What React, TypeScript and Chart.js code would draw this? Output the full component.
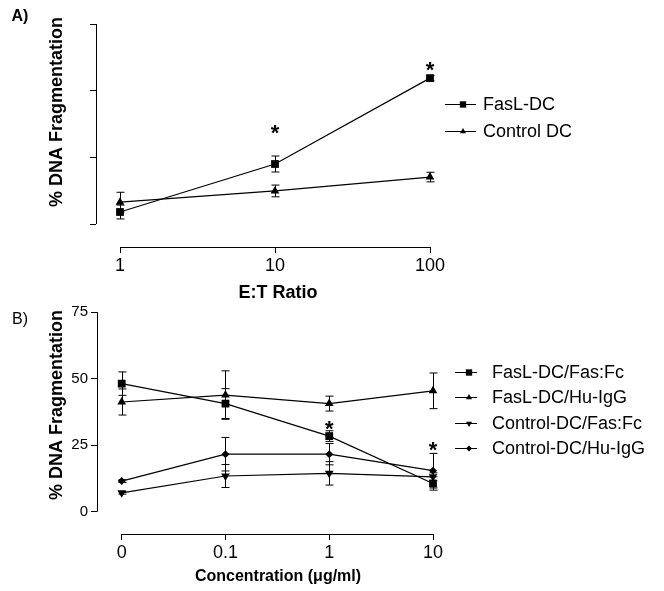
import React, { useEffect, useRef } from 'react';
import { Chart, registerables } from 'chart.js';

Chart.register(...registerables);

const FONT = "'Liberation Sans', Arial, Helvetica, sans-serif";

// ---------- Panel A data ----------
const ratioLabels = ['1', '10', '100'];
const faslDC = [4.5, 22.5, 54.7];
const faslDCErr = [2.6, 3.0, 1.0];
const controlDC = [8.2, 12.4, 17.6];
const controlDCErr = [3.7, 2.2, 1.8];
const starsA: (number | null)[] = [null, 36, 59.6];

// ---------- Panel B data ----------
const concLabels = ['0', '0.1', '1', '10'];
const faslFasFc = [48.1, 40.6, 28.4, 10.6];
const faslFasFcErr = [4.4, 5.6, 2.0, 2.5];
const faslHuIgG = [41.2, 43.8, 40.6, 45.4];
const faslHuIgGErr = [4.9, 9.1, 2.8, 6.7];
const controlFasFc = [7.1, 13.4, 14.4, 13.1];
const controlFasFcErr = [0.5, 4.3, 4.4, 1.5];
const controlHuIgG = [11.5, 21.6, 21.6, 15.4];
const controlHuIgGErr = [0.5, 6.3, 4.0, 6.5];
const starsB: (number | null)[] = [null, null, 32.9, 25];

const yTicks = [0, 25, 50, 75];

type Marker = 'rect' | 'triangle' | 'rectRot';

interface SeriesDef {
  label: string;
  values: number[];
  errors: number[];
  marker: Marker;
  rotation: number;
  radius: number;
  legendRadius: number;
}

interface PanelDef {
  width: number;
  height: number;
  labels: string[];
  series: SeriesDef[];
  stars: (number | null)[];
  top: number;
  zeroY: number;
  axisY: number;
  left: number;
  firstX: number;
  lastX: number;
  right: number;
  showYTickLabels: boolean;
  yTitle: { text: string; x: number; y: number };
  xTitle: { text: string; x: number; y: number; size: number };
  panelLabel: { text: string; x: number; y: number; bold: boolean };
  legend: { rows: number[]; lineFrom: number; lineTo: number; markerX: number; textX: number };
}

function drawMarker(ctx: CanvasRenderingContext2D, m: Marker, x: number, y: number, r: number, rotDeg: number) {
  const rot = (rotDeg * Math.PI) / 180;
  ctx.beginPath();
  if (m === 'rect') {
    const s = Math.SQRT1_2 * r;
    ctx.rect(x - s, y - s, 2 * s, 2 * s);
  } else if (m === 'triangle') {
    let a = rot;
    ctx.moveTo(x + Math.sin(a) * r, y - Math.cos(a) * r);
    a += (2 * Math.PI) / 3;
    ctx.lineTo(x + Math.sin(a) * r, y - Math.cos(a) * r);
    a += (2 * Math.PI) / 3;
    ctx.lineTo(x + Math.sin(a) * r, y - Math.cos(a) * r);
    ctx.closePath();
  } else {
    ctx.moveTo(x, y - r);
    ctx.lineTo(x + r, y);
    ctx.lineTo(x, y + r);
    ctx.lineTo(x - r, y);
    ctx.closePath();
  }
  ctx.fill();
}

function makePlugin(def: PanelDef) {
  const n = def.labels.length;
  return {
    id: 'panelDecor',
    beforeDatasetsDraw(chart: any) {
      const { ctx, chartArea: ca, scales } = chart;
      const x = scales.x;
      const y = scales.y;
      ctx.save();
      ctx.strokeStyle = '#000';
      ctx.lineWidth = 1;
      // axis lines (offset style)
      ctx.beginPath();
      const yl = Math.round(ca.left) + 0.5;
      ctx.moveTo(yl, y.getPixelForValue(yTicks[0]));
      ctx.lineTo(yl, y.getPixelForValue(yTicks[yTicks.length - 1]));
      const xb = Math.round(ca.bottom) + 0.5;
      ctx.moveTo(x.getPixelForValue(0), xb);
      ctx.lineTo(x.getPixelForValue(n - 1), xb);
      ctx.stroke();
      // error bars
      def.series.forEach((s) => {
        s.values.forEach((v, i) => {
          const e = s.errors[i];
          if (!e) return;
          const px = Math.round(x.getPixelForValue(i)) + 0.5;
          const t = y.getPixelForValue(v + e);
          const b = y.getPixelForValue(v - e);
          ctx.beginPath();
          ctx.moveTo(px, t);
          ctx.lineTo(px, b);
          ctx.moveTo(px - 4, t);
          ctx.lineTo(px + 4, t);
          ctx.moveTo(px - 4, b);
          ctx.lineTo(px + 4, b);
          ctx.stroke();
        });
      });
      ctx.restore();
    },
    afterDraw(chart: any) {
      const { ctx, scales } = chart;
      const x = scales.x;
      const y = scales.y;
      ctx.save();
      ctx.fillStyle = '#000';
      ctx.strokeStyle = '#000';
      // significance stars
      ctx.font = `bold 22px ${FONT}`;
      ctx.textAlign = 'center';
      ctx.textBaseline = 'alphabetic';
      def.stars.forEach((sv, i) => {
        if (sv == null) return;
        ctx.fillText('*', x.getPixelForValue(i), y.getPixelForValue(sv) + 12);
      });
      // axis titles
      ctx.textBaseline = 'middle';
      ctx.font = `bold ${def.xTitle.size}px ${FONT}`;
      ctx.fillText(def.xTitle.text, def.xTitle.x, def.xTitle.y);
      ctx.save();
      ctx.translate(def.yTitle.x, def.yTitle.y);
      ctx.rotate(-Math.PI / 2);
      ctx.font = `bold 18px ${FONT}`;
      ctx.fillText(def.yTitle.text, 0, 0);
      ctx.restore();
      // panel label
      ctx.font = `${def.panelLabel.bold ? 'bold ' : ''}16px ${FONT}`;
      ctx.fillText(def.panelLabel.text, def.panelLabel.x, def.panelLabel.y);
      // legend
      ctx.font = `18px ${FONT}`;
      ctx.textAlign = 'left';
      ctx.lineWidth = 1;
      def.series.forEach((s, i) => {
        const ry = def.legend.rows[i];
        ctx.beginPath();
        ctx.moveTo(def.legend.lineFrom, Math.round(ry) + 0.5);
        ctx.lineTo(def.legend.lineTo, Math.round(ry) + 0.5);
        ctx.stroke();
        drawMarker(ctx, s.marker, def.legend.markerX, Math.round(ry) + 0.5, s.legendRadius, s.rotation);
        ctx.fillText(s.label, def.legend.textX, ry + 1);
      });
      ctx.restore();
    },
  };
}

function buildConfig(def: PanelDef): any {
  const n = def.labels.length;
  const unitY = (def.zeroY - def.top) / 75;
  const yMin = -(def.axisY - def.zeroY) / unitY;
  const unitX = (def.lastX - def.firstX) / (n - 1);
  const xMin = -(def.firstX - def.left) / unitX;
  const xMax = n - 1 + (def.right - def.lastX) / unitX;
  return {
    type: 'line',
    data: {
      datasets: def.series.map((s) => ({
        label: s.label,
        data: s.values.map((v, i) => ({ x: i, y: v })),
        borderColor: '#000',
        borderWidth: 1.2,
        backgroundColor: '#000',
        pointBackgroundColor: '#000',
        pointBorderColor: '#000',
        pointBorderWidth: 0,
        pointStyle: s.marker,
        pointRotation: s.rotation,
        pointRadius: s.radius,
        tension: 0,
        fill: false,
        clip: false,
      })),
    },
    options: {
      responsive: false,
      animation: false,
      events: [],
      layout: { padding: { top: def.top, left: 0, right: def.width - def.right, bottom: 0 } },
      plugins: { legend: { display: false }, tooltip: { enabled: false }, title: { display: false } },
      scales: {
        x: {
          type: 'linear',
          min: xMin,
          max: xMax,
          afterBuildTicks: (s: any) => {
            s.ticks = def.labels.map((_, i) => ({ value: i }));
          },
          afterFit: (s: any) => {
            s.height = def.height - def.axisY;
          },
          ticks: {
            callback: (v: number) => def.labels[v] ?? '',
            color: '#000',
            font: { family: FONT, size: 18 },
            padding: 2,
            maxRotation: 0,
            autoSkip: false,
          },
          grid: { display: true, drawOnChartArea: false, drawTicks: true, tickLength: 6, color: '#000', lineWidth: 1 },
          border: { display: false },
        },
        y: {
          type: 'linear',
          min: yMin,
          max: 75,
          afterBuildTicks: (s: any) => {
            s.ticks = yTicks.map((v) => ({ value: v }));
          },
          afterFit: (s: any) => {
            s.width = def.left;
          },
          ticks: {
            display: def.showYTickLabels,
            color: '#000',
            font: { family: FONT, size: 15 },
            padding: 3,
            callback: (v: number) => String(v),
          },
          grid: { display: true, drawOnChartArea: false, drawTicks: true, tickLength: 6, color: '#000', lineWidth: 1 },
          border: { display: false },
        },
      },
    },
    plugins: [makePlugin(def)],
  };
}

const panelA: PanelDef = {
  width: 664,
  height: 300,
  labels: ratioLabels,
  series: [
    { label: 'FasL-DC', values: faslDC, errors: faslDCErr, marker: 'rect', rotation: 0, radius: 5.5, legendRadius: 4.5 },
    { label: 'Control DC', values: controlDC, errors: controlDCErr, marker: 'triangle', rotation: 0, radius: 5, legendRadius: 3.5 },
  ],
  stars: starsA,
  top: 24,
  zeroY: 224,
  axisY: 247,
  left: 96,
  firstX: 120,
  lastX: 430,
  right: 440,
  showYTickLabels: false,
  yTitle: { text: '% DNA Fragmentation', x: 57, y: 112 },
  xTitle: { text: 'E:T Ratio', x: 278, y: 293, size: 18 },
  panelLabel: { text: 'A)', x: 20, y: 17, bold: true },
  legend: { rows: [104, 131], lineFrom: 445, lineTo: 476, markerX: 463, textX: 483 },
};

const panelB: PanelDef = {
  width: 664,
  height: 291,
  labels: concLabels,
  series: [
    { label: 'FasL-DC/Fas:Fc', values: faslFasFc, errors: faslFasFcErr, marker: 'rect', rotation: 0, radius: 5.5, legendRadius: 4.5 },
    { label: 'FasL-DC/Hu-IgG', values: faslHuIgG, errors: faslHuIgGErr, marker: 'triangle', rotation: 0, radius: 5, legendRadius: 3.5 },
    { label: 'Control-DC/Fas:Fc', values: controlFasFc, errors: controlFasFcErr, marker: 'triangle', rotation: 180, radius: 5, legendRadius: 3.5 },
    { label: 'Control-DC/Hu-IgG', values: controlHuIgG, errors: controlHuIgGErr, marker: 'rectRot', rotation: 0, radius: 4, legendRadius: 3 },
  ],
  stars: starsB,
  top: 12,
  zeroY: 211.7,
  axisY: 234,
  left: 97,
  firstX: 121.7,
  lastX: 433,
  right: 440,
  showYTickLabels: true,
  yTitle: { text: '% DNA Fragmentation', x: 57, y: 105 },
  xTitle: { text: 'Concentration (\u03bcg/ml)', x: 278, y: 277, size: 16 },
  panelLabel: { text: 'B)', x: 20, y: 20, bold: false },
  legend: { rows: [71.7, 97.3, 123.3, 148.3], lineFrom: 455, lineTo: 477, markerX: 469, textX: 492 },
};

function Panel({ def, top }: { def: PanelDef; top: number }) {
  const ref = useRef<HTMLCanvasElement | null>(null);
  useEffect(() => {
    if (!ref.current) return;
    const chart = new Chart(ref.current, buildConfig(def));
    return () => chart.destroy();
  }, [def]);
  return (
    <canvas
      ref={ref}
      width={def.width}
      height={def.height}
      style={{ position: 'absolute', left: 0, top, width: def.width, height: def.height, display: 'block' }}
    />
  );
}

export default function App() {
  return (
    <div style={{ position: 'absolute', left: 0, top: 0, width: 664, height: 591, background: '#fff', overflow: 'hidden' }}>
      <Panel def={panelA} top={0} />
      <Panel def={panelB} top={300} />
    </div>
  );
}
